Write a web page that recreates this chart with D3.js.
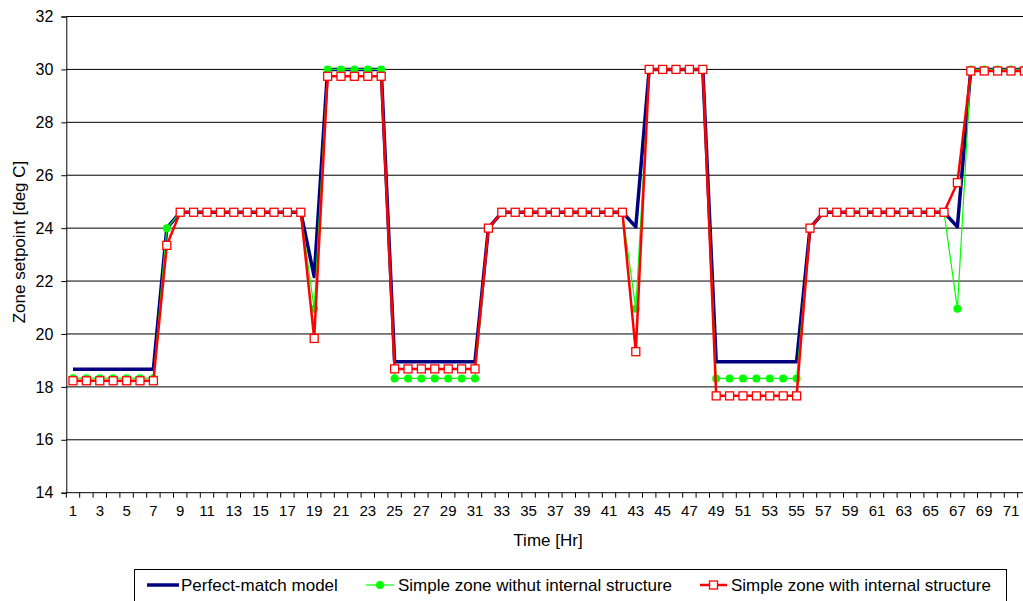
<!DOCTYPE html>
<html>
<head>
<meta charset="utf-8">
<script src="https://cdn.jsdelivr.net/npm/d3@7"></script>
<style>
  body { margin: 0; background: #fff; }
  svg { display: block; font-family: "Liberation Sans", Arial, sans-serif; }
</style>
</head>
<body>
<svg id="chart" width="1023" height="601"></svg>
<script>
// Hour of the simulated day sequence (categories)
const hours = [1,2,3,4,5,6,7,8,9,10,11,12,13,14,15,16,17,18,19,20,21,22,23,24,
  25,26,27,28,29,30,31,32,33,34,35,36,37,38,39,40,41,42,43,44,45,46,47,48,
  49,50,51,52,53,54,55,56,57,58,59,60,61,62,63,64,65,66,67,68,69,70,71,72];

// Zone setpoint [deg C] per hour
const perfectMatch = [
  18.67,18.67,18.67,18.67,18.67,18.67,18.67, 24.0,
  24.6,24.6,24.6,24.6,24.6,24.6,24.6,24.6,24.6,24.6, 22.17,
  30,30,30,30,30,
  18.95,18.95,18.95,18.95,18.95,18.95,18.95, 24.0,
  24.6,24.6,24.6,24.6,24.6,24.6,24.6,24.6,24.6,24.6, 24.05,
  30,30,30,30,30,
  18.95,18.95,18.95,18.95,18.95,18.95,18.95, 24.0,
  24.6,24.6,24.6,24.6,24.6,24.6,24.6,24.6,24.6,24.6, 24.05,
  30,30,30,30,30];

const simpleNoStructure = [
  18.33,18.33,18.33,18.33,18.33,18.33,18.33, 24.0,
  24.6,24.6,24.6,24.6,24.6,24.6,24.6,24.6,24.6,24.6, 20.95,
  30,30,30,30,30,
  18.32,18.32,18.32,18.32,18.32,18.32,18.32, 24.0,
  24.6,24.6,24.6,24.6,24.6,24.6,24.6,24.6,24.6,24.6, 20.95,
  30,30,30,30,30,
  18.32,18.32,18.32,18.32,18.32,18.32,18.32, 24.0,
  24.6,24.6,24.6,24.6,24.6,24.6,24.6,24.6,24.6,24.6, 20.95,
  30,30,30,30,30];

const simpleWithStructure = [
  18.23,18.23,18.23,18.23,18.23,18.23,18.23, 23.35,
  24.6,24.6,24.6,24.6,24.6,24.6,24.6,24.6,24.6,24.6, 19.83,
  29.74,29.74,29.74,29.74,29.74,
  18.68,18.68,18.68,18.68,18.68,18.68,18.68, 24.0,
  24.6,24.6,24.6,24.6,24.6,24.6,24.6,24.6,24.6,24.6, 19.33,
  30,30,30,30,30,
  17.66,17.66,17.66,17.66,17.66,17.66,17.66, 24.0,
  24.6,24.6,24.6,24.6,24.6,24.6,24.6,24.6,24.6,24.6, 25.72,
  29.94,29.94,29.94,29.94,29.94];

const yTicks = [14,16,18,20,22,24,26,28,30,32];
const seriesNames = ["Perfect-match model", "Simple zone withut internal structure", "Simple zone with internal structure"];

const svg = d3.select("#chart");
const plotLeft = 66.3, plotTop = 16.5, plotBottom = 492.7, step = 13.4;
const plotRight = plotLeft + step * hours.length;

const x = d3.scaleBand().domain(hours).range([plotLeft, plotRight]);
const y = d3.scaleLinear().domain([14, 32]).range([plotBottom, plotTop]);
const cx = h => x(h) + x.bandwidth() / 2;

// horizontal gridlines
svg.append("g").selectAll("line")
  .data(yTicks.filter(t => t > 14))
  .join("line")
  .attr("x1", plotLeft).attr("x2", 1023)
  .attr("y1", d => y(d)).attr("y2", d => y(d))
  .attr("stroke", "#000").attr("stroke-width", 1);

// y axis
const yAxis = d3.axisLeft(y).tickValues(yTicks).tickSize(5).tickPadding(8).tickFormat(d3.format("d"));
const gy = svg.append("g").attr("transform", `translate(${plotLeft},0)`).call(yAxis);
gy.attr("font-size", 16).attr("font-family", "Liberation Sans, Arial, sans-serif");
gy.select(".domain").attr("stroke", "#000");
gy.selectAll(".tick line").attr("stroke", "#000");
gy.selectAll(".tick text").attr("fill", "#000");

// x axis: ticks on category boundaries, labels on odd hours
const xAxis = d3.axisBottom(x).tickValues(hours.filter(h => h % 2 === 1)).tickSize(0).tickPadding(13);
const gx = svg.append("g").attr("transform", `translate(0,${plotBottom})`).call(xAxis);
gx.attr("font-size", 15).attr("font-family", "Liberation Sans, Arial, sans-serif");
gx.select(".domain").remove();
gx.selectAll(".tick text").attr("fill", "#000");
svg.append("line").attr("x1", plotLeft).attr("x2", 1023).attr("y1", plotBottom).attr("y2", plotBottom).attr("stroke", "#000");
svg.append("g").selectAll("line")
  .data(hours)
  .join("line")
  .attr("x1", d => x(d)).attr("x2", d => x(d))
  .attr("y1", plotBottom).attr("y2", plotBottom + 5)
  .attr("stroke", "#000");

// axis titles
svg.append("text").attr("x", 548).attr("y", 546).attr("text-anchor", "middle")
  .attr("font-size", 17).text("Time [Hr]");
svg.append("text").attr("transform", "translate(25,242) rotate(-90)").attr("text-anchor", "middle")
  .attr("font-size", 17).text("Zone setpoint [deg C]");

const line = d3.line().x((d, i) => cx(hours[i])).y(d => y(d));

// Perfect-match model
svg.append("path").datum(perfectMatch).attr("d", line)
  .attr("fill", "none").attr("stroke", "#000080").attr("stroke-width", 3.5).attr("stroke-linejoin", "round");

// Simple zone without internal structure
svg.append("path").datum(simpleNoStructure).attr("d", line)
  .attr("fill", "none").attr("stroke", "#00ff00").attr("stroke-width", 1.2);
svg.append("g").selectAll("circle").data(simpleNoStructure).join("circle")
  .attr("cx", (d, i) => cx(hours[i])).attr("cy", d => y(d)).attr("r", 4)
  .attr("fill", "#00ff00");

// Simple zone with internal structure
svg.append("path").datum(simpleWithStructure).attr("d", line)
  .attr("fill", "none").attr("stroke", "#ff0000").attr("stroke-width", 2.5);
svg.append("g").selectAll("rect").data(simpleWithStructure).join("rect")
  .attr("x", (d, i) => cx(hours[i]) - 4).attr("y", d => y(d) - 4)
  .attr("width", 8).attr("height", 8)
  .attr("fill", "#fff").attr("stroke", "#ff0000").attr("stroke-width", 1.3);

// legend
const lg = svg.append("g");
lg.append("rect").attr("x", 134.5).attr("y", 569.5).attr("width", 872).attr("height", 40)
  .attr("fill", "#fff").attr("stroke", "#000").attr("stroke-width", 1);
const ly = 585;
const items = [
  { x0: 147, x1: 179, tx: 181 },
  { x0: 366, x1: 394, tx: 398 },
  { x0: 700, x1: 727, tx: 731 }
];
lg.append("line").attr("x1", items[0].x0).attr("x2", items[0].x1).attr("y1", ly).attr("y2", ly)
  .attr("stroke", "#000080").attr("stroke-width", 3.5);
lg.append("line").attr("x1", items[1].x0).attr("x2", items[1].x1).attr("y1", ly).attr("y2", ly)
  .attr("stroke", "#00ff00").attr("stroke-width", 1.2);
lg.append("circle").attr("cx", (items[1].x0 + items[1].x1) / 2).attr("cy", ly).attr("r", 4).attr("fill", "#00ff00");
lg.append("line").attr("x1", items[2].x0).attr("x2", items[2].x1).attr("y1", ly).attr("y2", ly)
  .attr("stroke", "#ff0000").attr("stroke-width", 2.5);
lg.append("rect").attr("x", (items[2].x0 + items[2].x1) / 2 - 4).attr("y", ly - 4).attr("width", 8).attr("height", 8)
  .attr("fill", "#fff").attr("stroke", "#ff0000").attr("stroke-width", 1.3);
lg.selectAll("text.lbl").data(seriesNames).join("text").attr("class", "lbl")
  .attr("x", (d, i) => items[i].tx).attr("y", ly + 6)
  .attr("font-size", 17).text(d => d);
</script>
</body>
</html>
